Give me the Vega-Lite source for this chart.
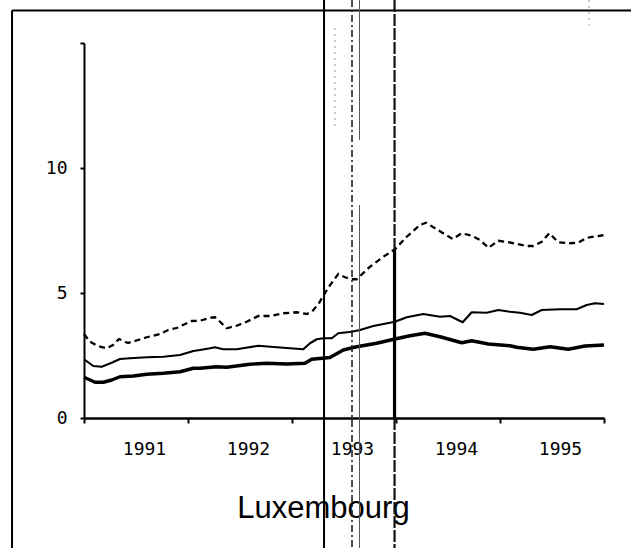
{
  "$schema": "https://vega.github.io/schema/vega-lite/v6.json",
  "autosize": {"type": "none"},
  "padding": {"left": 84, "top": 43, "right": 27, "bottom": 130},
  "width": 520,
  "height": 375,
  "background": "white",
  "config": {
    "view": {"stroke": null},
    "axis": {
      "labelFont": "DejaVu Sans Mono",
      "labelFontSize": 18,
      "labelColor": "black",
      "domainColor": "black",
      "tickColor": "black",
      "grid": false,
      "labelOverlap": false,
      "labelFlush": false
    }
  },
  "datasets": {
    "series": [
      {"s": "thick", "t": 1991.0, "v": 1.63},
      {"s": "thick", "t": 1991.106, "v": 1.43},
      {"s": "thick", "t": 1991.186, "v": 1.43},
      {"s": "thick", "t": 1991.266, "v": 1.52},
      {"s": "thick", "t": 1991.346, "v": 1.65},
      {"s": "thick", "t": 1991.474, "v": 1.68},
      {"s": "thick", "t": 1991.603, "v": 1.75},
      {"s": "thick", "t": 1991.763, "v": 1.79},
      {"s": "thick", "t": 1991.923, "v": 1.85},
      {"s": "thick", "t": 1992.051, "v": 1.99},
      {"s": "thick", "t": 1992.115, "v": 1.99},
      {"s": "thick", "t": 1992.276, "v": 2.05},
      {"s": "thick", "t": 1992.372, "v": 2.03},
      {"s": "thick", "t": 1992.596, "v": 2.15},
      {"s": "thick", "t": 1992.757, "v": 2.19},
      {"s": "thick", "t": 1992.949, "v": 2.16},
      {"s": "thick", "t": 1993.125, "v": 2.19},
      {"s": "thick", "t": 1993.189, "v": 2.35},
      {"s": "thick", "t": 1993.365, "v": 2.42},
      {"s": "thick", "t": 1993.493, "v": 2.72},
      {"s": "thick", "t": 1993.622, "v": 2.85},
      {"s": "thick", "t": 1993.814, "v": 2.99},
      {"s": "thick", "t": 1993.99, "v": 3.16},
      {"s": "thick", "t": 1994.135, "v": 3.29},
      {"s": "thick", "t": 1994.279, "v": 3.39},
      {"s": "thick", "t": 1994.423, "v": 3.25},
      {"s": "thick", "t": 1994.632, "v": 3.01},
      {"s": "thick", "t": 1994.728, "v": 3.09},
      {"s": "thick", "t": 1994.888, "v": 2.96},
      {"s": "thick", "t": 1995.096, "v": 2.89},
      {"s": "thick", "t": 1995.16, "v": 2.83},
      {"s": "thick", "t": 1995.32, "v": 2.75},
      {"s": "thick", "t": 1995.481, "v": 2.85},
      {"s": "thick", "t": 1995.657, "v": 2.75},
      {"s": "thick", "t": 1995.817, "v": 2.88},
      {"s": "thick", "t": 1996.0, "v": 2.92},

      {"s": "thin", "t": 1991.0, "v": 2.35},
      {"s": "thin", "t": 1991.089, "v": 2.08},
      {"s": "thin", "t": 1991.17, "v": 2.05},
      {"s": "thin", "t": 1991.266, "v": 2.21},
      {"s": "thin", "t": 1991.346, "v": 2.36},
      {"s": "thin", "t": 1991.442, "v": 2.39},
      {"s": "thin", "t": 1991.603, "v": 2.43},
      {"s": "thin", "t": 1991.763, "v": 2.45},
      {"s": "thin", "t": 1991.923, "v": 2.52},
      {"s": "thin", "t": 1992.051, "v": 2.68},
      {"s": "thin", "t": 1992.115, "v": 2.72},
      {"s": "thin", "t": 1992.212, "v": 2.79},
      {"s": "thin", "t": 1992.26, "v": 2.83},
      {"s": "thin", "t": 1992.339, "v": 2.75},
      {"s": "thin", "t": 1992.468, "v": 2.75},
      {"s": "thin", "t": 1992.676, "v": 2.89},
      {"s": "thin", "t": 1992.853, "v": 2.83},
      {"s": "thin", "t": 1993.109, "v": 2.75},
      {"s": "thin", "t": 1993.173, "v": 2.99},
      {"s": "thin", "t": 1993.238, "v": 3.15},
      {"s": "thin", "t": 1993.301, "v": 3.19},
      {"s": "thin", "t": 1993.382, "v": 3.19},
      {"s": "thin", "t": 1993.445, "v": 3.39},
      {"s": "thin", "t": 1993.574, "v": 3.45},
      {"s": "thin", "t": 1993.654, "v": 3.52},
      {"s": "thin", "t": 1993.782, "v": 3.68},
      {"s": "thin", "t": 1993.99, "v": 3.85},
      {"s": "thin", "t": 1994.103, "v": 4.03},
      {"s": "thin", "t": 1994.263, "v": 4.16},
      {"s": "thin", "t": 1994.423, "v": 4.05},
      {"s": "thin", "t": 1994.519, "v": 4.08},
      {"s": "thin", "t": 1994.641, "v": 3.83},
      {"s": "thin", "t": 1994.728, "v": 4.23},
      {"s": "thin", "t": 1994.872, "v": 4.21},
      {"s": "thin", "t": 1994.984, "v": 4.32},
      {"s": "thin", "t": 1995.096, "v": 4.25},
      {"s": "thin", "t": 1995.192, "v": 4.21},
      {"s": "thin", "t": 1995.305, "v": 4.12},
      {"s": "thin", "t": 1995.401, "v": 4.32},
      {"s": "thin", "t": 1995.577, "v": 4.35},
      {"s": "thin", "t": 1995.737, "v": 4.35},
      {"s": "thin", "t": 1995.834, "v": 4.52},
      {"s": "thin", "t": 1995.913, "v": 4.59},
      {"s": "thin", "t": 1996.0, "v": 4.56},

      {"s": "dashed", "t": 1991.0, "v": 3.36},
      {"s": "dashed", "t": 1991.058, "v": 3.05},
      {"s": "dashed", "t": 1991.135, "v": 2.88},
      {"s": "dashed", "t": 1991.218, "v": 2.79},
      {"s": "dashed", "t": 1991.279, "v": 2.92},
      {"s": "dashed", "t": 1991.337, "v": 3.16},
      {"s": "dashed", "t": 1991.423, "v": 3.0},
      {"s": "dashed", "t": 1991.519, "v": 3.12},
      {"s": "dashed", "t": 1991.603, "v": 3.23},
      {"s": "dashed", "t": 1991.731, "v": 3.36},
      {"s": "dashed", "t": 1991.808, "v": 3.52},
      {"s": "dashed", "t": 1991.891, "v": 3.6},
      {"s": "dashed", "t": 1991.952, "v": 3.72},
      {"s": "dashed", "t": 1992.036, "v": 3.88},
      {"s": "dashed", "t": 1992.115, "v": 3.89},
      {"s": "dashed", "t": 1992.212, "v": 4.01},
      {"s": "dashed", "t": 1992.26, "v": 4.03},
      {"s": "dashed", "t": 1992.308, "v": 3.85},
      {"s": "dashed", "t": 1992.372, "v": 3.59},
      {"s": "dashed", "t": 1992.468, "v": 3.69},
      {"s": "dashed", "t": 1992.564, "v": 3.85},
      {"s": "dashed", "t": 1992.676, "v": 4.08},
      {"s": "dashed", "t": 1992.788, "v": 4.08},
      {"s": "dashed", "t": 1992.916, "v": 4.19},
      {"s": "dashed", "t": 1993.045, "v": 4.23},
      {"s": "dashed", "t": 1993.141, "v": 4.16},
      {"s": "dashed", "t": 1993.192, "v": 4.25},
      {"s": "dashed", "t": 1993.26, "v": 4.6},
      {"s": "dashed", "t": 1993.298, "v": 4.87},
      {"s": "dashed", "t": 1993.346, "v": 5.2},
      {"s": "dashed", "t": 1993.445, "v": 5.76},
      {"s": "dashed", "t": 1993.51, "v": 5.63},
      {"s": "dashed", "t": 1993.574, "v": 5.55},
      {"s": "dashed", "t": 1993.622, "v": 5.55},
      {"s": "dashed", "t": 1993.75, "v": 6.05},
      {"s": "dashed", "t": 1993.878, "v": 6.45},
      {"s": "dashed", "t": 1993.99, "v": 6.75},
      {"s": "dashed", "t": 1994.103, "v": 7.25},
      {"s": "dashed", "t": 1994.231, "v": 7.72},
      {"s": "dashed", "t": 1994.288, "v": 7.81},
      {"s": "dashed", "t": 1994.391, "v": 7.55},
      {"s": "dashed", "t": 1994.545, "v": 7.16},
      {"s": "dashed", "t": 1994.632, "v": 7.39},
      {"s": "dashed", "t": 1994.728, "v": 7.29},
      {"s": "dashed", "t": 1994.808, "v": 7.12},
      {"s": "dashed", "t": 1994.888, "v": 6.81},
      {"s": "dashed", "t": 1994.984, "v": 7.09},
      {"s": "dashed", "t": 1995.096, "v": 7.02},
      {"s": "dashed", "t": 1995.257, "v": 6.88},
      {"s": "dashed", "t": 1995.32, "v": 6.88},
      {"s": "dashed", "t": 1995.401, "v": 7.05},
      {"s": "dashed", "t": 1995.474, "v": 7.39},
      {"s": "dashed", "t": 1995.561, "v": 7.03},
      {"s": "dashed", "t": 1995.673, "v": 6.99},
      {"s": "dashed", "t": 1995.753, "v": 7.01},
      {"s": "dashed", "t": 1995.834, "v": 7.21},
      {"s": "dashed", "t": 1995.962, "v": 7.29},
      {"s": "dashed", "t": 1996.0, "v": 7.32}
    ],
    "vrules": [
      {"k": "solid", "x": 1990.308, "y": 16.3, "y2": -5.2},
      {"k": "solid", "x": 1993.308, "y": 16.72, "y2": -5.2},
      {"k": "dashdot", "x": 1993.577, "y": 16.72, "y2": -5.2},
      {"k": "grey", "x": 1993.649, "y": 16.72, "y2": 11.12},
      {"k": "grey", "x": 1993.649, "y": 8.52, "y2": -5.2},
      {"k": "heavy", "x": 1993.986, "y": 6.74, "y2": 0},
      {"k": "heavydash", "x": 1993.986, "y": 16.72, "y2": 6.74},
      {"k": "heavydash", "x": 1993.986, "y": 0, "y2": -5.2},
      {"k": "faint", "x": 1993.413, "y": 15.6, "y2": 11.56},
      {"k": "faint", "x": 1995.856, "y": 16.72, "y2": 15.7}
    ],
    "hrules": [
      {"y": 16.3, "x": 1990.308, "x2": 1996.26}
    ]
  },
  "layer": [
    {
      "data": {"name": "series"},
      "transform": [{"filter": "datum.s == 'thick'"}],
      "mark": {"type": "line", "color": "black", "strokeWidth": 3.4, "strokeJoin": "round"},
      "encoding": {
        "x": {
          "field": "t", "type": "quantitative",
          "scale": {"domain": [1991, 1996], "nice": false, "zero": false},
          "axis": {
            "title": "Luxembourg",
            "titleFont": "Liberation Sans",
            "titleFontSize": 31,
            "titleFontWeight": "normal",
            "titleColor": "black",
            "titleX": 239,
            "titleAlign": "center",
            "titlePadding": 35,
            "values": [1991, 1992, 1993, 1994, 1995, 1996],
            "format": "d",
            "labelExpr": "datum.value < 1996 ? datum.label : ''",
            "labelOffset": 60,
            "labelAlign": "center",
            "labelBaseline": "top",
            "labelPadding": 17,
            "tickSize": 5,
            "tickWidth": 2,
            "domainWidth": 2.5
          }
        },
        "y": {
          "field": "v", "type": "quantitative",
          "scale": {"domain": [0, 15], "nice": false, "zero": false},
          "axis": {
            "title": null,
            "values": [0, 5, 10, 15],
            "labelExpr": "datum.value == 15 ? '' : datum.label",
            "labelPadding": 13,
            "tickSize": 4,
            "tickWidth": 2,
            "domainWidth": 2
          }
        }
      }
    },
    {
      "data": {"name": "series"},
      "transform": [{"filter": "datum.s == 'thin'"}],
      "mark": {"type": "line", "color": "black", "strokeWidth": 2.1, "strokeJoin": "round"},
      "encoding": {
        "x": {"field": "t", "type": "quantitative"},
        "y": {"field": "v", "type": "quantitative"}
      }
    },
    {
      "data": {"name": "series"},
      "transform": [{"filter": "datum.s == 'dashed'"}],
      "mark": {"type": "line", "color": "black", "strokeWidth": 2.3, "strokeDash": [6, 4]},
      "encoding": {
        "x": {"field": "t", "type": "quantitative"},
        "y": {"field": "v", "type": "quantitative"}
      }
    },
    {
      "data": {"name": "hrules"},
      "mark": {"type": "rule", "color": "black", "strokeWidth": 2},
      "encoding": {
        "y": {"field": "y", "type": "quantitative"},
        "x": {"field": "x", "type": "quantitative"},
        "x2": {"field": "x2"}
      }
    },
    {
      "data": {"name": "vrules"},
      "transform": [{"filter": "datum.k == 'solid'"}],
      "mark": {"type": "rule", "color": "black", "strokeWidth": 2},
      "encoding": {
        "x": {"field": "x", "type": "quantitative"},
        "y": {"field": "y", "type": "quantitative"},
        "y2": {"field": "y2"}
      }
    },
    {
      "data": {"name": "vrules"},
      "transform": [{"filter": "datum.k == 'dashdot'"}],
      "mark": {"type": "rule", "color": "#222", "strokeWidth": 1.6, "strokeDash": [7, 3, 2, 3]},
      "encoding": {
        "x": {"field": "x", "type": "quantitative"},
        "y": {"field": "y", "type": "quantitative"},
        "y2": {"field": "y2"}
      }
    },
    {
      "data": {"name": "vrules"},
      "transform": [{"filter": "datum.k == 'grey'"}],
      "mark": {"type": "rule", "color": "#555", "strokeWidth": 1},
      "encoding": {
        "x": {"field": "x", "type": "quantitative"},
        "y": {"field": "y", "type": "quantitative"},
        "y2": {"field": "y2"}
      }
    },
    {
      "data": {"name": "vrules"},
      "transform": [{"filter": "datum.k == 'heavy'"}],
      "mark": {"type": "rule", "color": "black", "strokeWidth": 3.2},
      "encoding": {
        "x": {"field": "x", "type": "quantitative"},
        "y": {"field": "y", "type": "quantitative"},
        "y2": {"field": "y2"}
      }
    },
    {
      "data": {"name": "vrules"},
      "transform": [{"filter": "datum.k == 'heavydash'"}],
      "mark": {"type": "rule", "color": "#111", "strokeWidth": 2.2, "strokeDash": [12, 2]},
      "encoding": {
        "x": {"field": "x", "type": "quantitative"},
        "y": {"field": "y", "type": "quantitative"},
        "y2": {"field": "y2"}
      }
    },
    {
      "data": {"name": "vrules"},
      "transform": [{"filter": "datum.k == 'faint'"}],
      "mark": {"type": "rule", "color": "#999", "strokeWidth": 1, "strokeDash": [2, 4]},
      "encoding": {
        "x": {"field": "x", "type": "quantitative"},
        "y": {"field": "y", "type": "quantitative"},
        "y2": {"field": "y2"}
      }
    }
  ]
}
